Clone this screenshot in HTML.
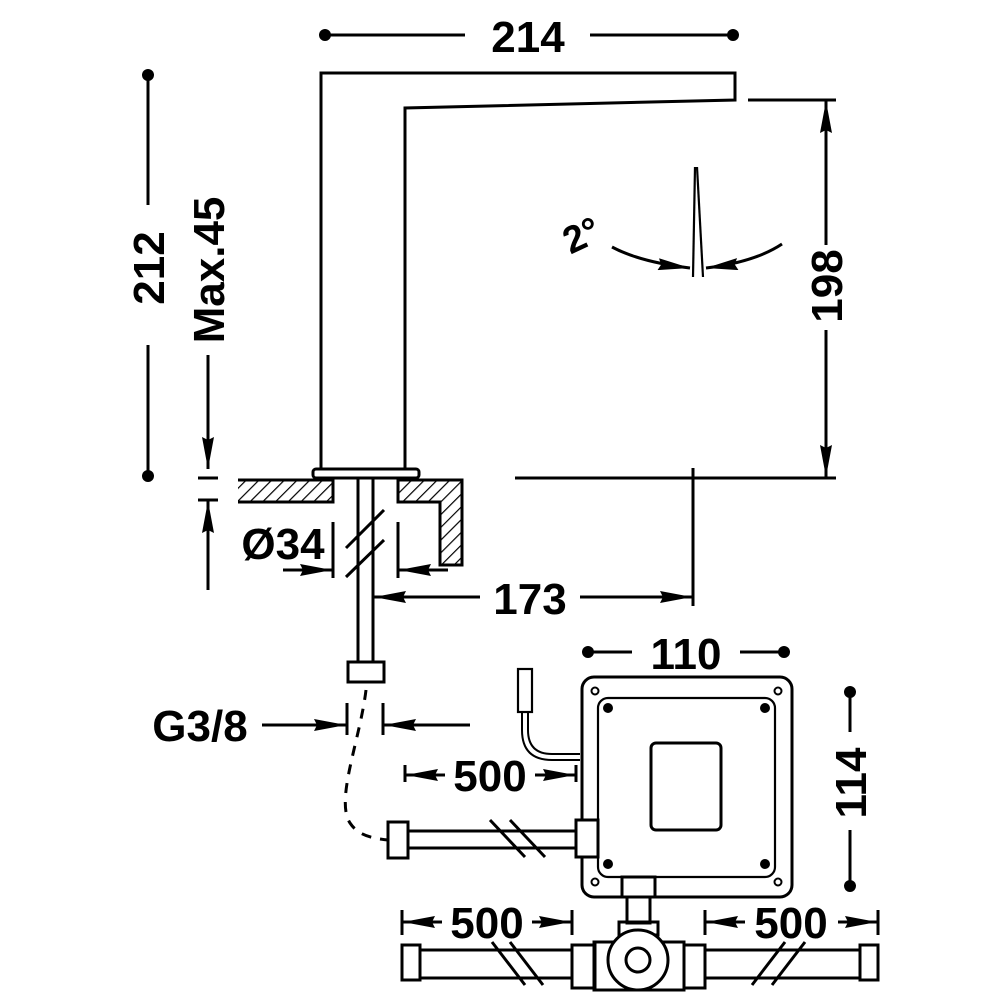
<!DOCTYPE html>
<html><head><meta charset="utf-8"><style>
html,body{margin:0;padding:0;background:#fff;}
svg{display:block;}
text{font-family:"Liberation Sans",Arial,sans-serif;font-weight:bold;fill:#000;}
</style></head><body>
<svg width="1000" height="1000" viewBox="0 0 1000 1000" xmlns="http://www.w3.org/2000/svg">
<defs>
<pattern id="h" patternUnits="userSpaceOnUse" width="9" height="9" patternTransform="rotate(45)">
<line x1="0" y1="0" x2="0" y2="9" stroke="#000" stroke-width="2.4"/>
</pattern>
<marker id="a" markerWidth="32" markerHeight="12" refX="32" refY="6" orient="auto" markerUnits="userSpaceOnUse" viewBox="0 0 32 12"><path d="M0,0 L32,6 L0,12 L3,6z" fill="#000"/></marker>
</defs>
<g fill="none" stroke="#000" stroke-width="3">
<path d="M321,470 V73 H735 V100 L405,108 V470"/>
<rect x="313" y="469" width="106" height="9" rx="3"/>
<rect x="238" y="480" width="95" height="22" fill="url(#h)" stroke="none"/>
<path d="M238,480 H333 V502 H238" />
<path d="M398,480 H462 V565 H440 V502 H398 Z" fill="url(#h)"/>
<line x1="358" y1="478" x2="358" y2="662"/>
<line x1="373" y1="478" x2="373" y2="662"/>
<line x1="346" y1="548" x2="384" y2="510"/>
<line x1="346" y1="577" x2="384" y2="540"/>
<rect x="348" y="662" width="36" height="20"/>
<line x1="325" y1="35" x2="465" y2="35"/>
<line x1="590" y1="35" x2="733" y2="35"/>
<line x1="148" y1="75" x2="148" y2="205"/>
<line x1="148" y1="345" x2="148" y2="476"/>
<line x1="208" y1="355" x2="208" y2="469" marker-end="url(#a)"/>
<line x1="198" y1="478" x2="218" y2="478"/>
<line x1="198" y1="500" x2="218" y2="500"/>
<line x1="208" y1="590" x2="208" y2="501" marker-end="url(#a)"/>
<line x1="748" y1="100" x2="836" y2="100"/>
<line x1="515" y1="478" x2="836" y2="478"/>
<line x1="826" y1="245" x2="826" y2="101" marker-end="url(#a)"/>
<line x1="826" y1="330" x2="826" y2="477" marker-end="url(#a)"/>
<line x1="695" y1="167" x2="693" y2="277" stroke-width="2.2"/>
<line x1="697" y1="167" x2="703" y2="277" stroke-width="2.2"/>
<path d="M612,247 Q640,262 690,268" marker-end="url(#a)"/>
<path d="M782,244 Q755,262 706,268" marker-end="url(#a)"/>
<line x1="333" y1="522" x2="333" y2="578"/>
<line x1="398" y1="522" x2="398" y2="578"/>
<line x1="283" y1="570" x2="332" y2="570" marker-end="url(#a)"/>
<line x1="448" y1="570" x2="399" y2="570" marker-end="url(#a)"/>
<line x1="693" y1="468" x2="693" y2="606"/>
<line x1="480" y1="597" x2="374" y2="597" marker-end="url(#a)"/>
<line x1="580" y1="597" x2="692" y2="597" marker-end="url(#a)"/>
<line x1="262" y1="725" x2="346" y2="725" marker-end="url(#a)"/>
<line x1="347" y1="703" x2="347" y2="735"/>
<line x1="383" y1="703" x2="383" y2="735"/>
<line x1="470" y1="725" x2="384" y2="725" marker-end="url(#a)"/>
<path d="M366,690 C360,740 335,800 350,823 C358,835 370,838 388,840" stroke-dasharray="10,9"/>
<rect x="388" y="822" width="20" height="36"/>
<line x1="408" y1="831" x2="576" y2="831"/>
<line x1="408" y1="848" x2="576" y2="848"/>
<line x1="490" y1="820" x2="525" y2="857"/>
<line x1="510" y1="820" x2="545" y2="857"/>
<line x1="405" y1="765" x2="405" y2="782"/>
<line x1="445" y1="775" x2="406" y2="775" marker-end="url(#a)"/>
<line x1="535" y1="775" x2="575" y2="775" marker-end="url(#a)"/>
<line x1="576" y1="765" x2="576" y2="782"/>
<rect x="582" y="677" width="210" height="220" rx="12"/>
<rect x="598" y="698" width="177" height="179" rx="10" stroke-width="2.2"/>
<rect x="651" y="743" width="70" height="87" rx="5"/>
<rect x="576" y="820" width="22" height="37" fill="#fff"/>
<circle cx="595" cy="691" r="3.5" stroke-width="2"/>
<circle cx="778" cy="691" r="3.5" stroke-width="2"/>
<circle cx="595" cy="882" r="3.5" stroke-width="2"/>
<circle cx="778" cy="882" r="3.5" stroke-width="2"/>
<rect x="518" y="669" width="14" height="43" stroke-width="2.2"/>
<path d="M522,712 V730 Q522,760 552,760 H580" stroke-width="2"/>
<path d="M528,712 V730 Q528,754 552,754 H580" stroke-width="2"/>
<rect x="622" y="877" width="33" height="20"/>
<rect x="627" y="897" width="23" height="26"/>
<rect x="619" y="922" width="39" height="13"/>
<rect x="572" y="945" width="23" height="43"/>
<rect x="594" y="942" width="90" height="48"/>
<rect x="684" y="945" width="21" height="43"/>
<circle cx="638" cy="960" r="30" fill="#fff"/>
<circle cx="638" cy="960" r="12"/>
<line x1="420" y1="950" x2="572" y2="950"/>
<line x1="420" y1="978" x2="572" y2="978"/>
<line x1="705" y1="950" x2="860" y2="950"/>
<line x1="705" y1="978" x2="860" y2="978"/>
<rect x="402" y="945" width="18" height="35"/>
<rect x="860" y="945" width="18" height="35"/>
<line x1="492" y1="942" x2="525" y2="985"/>
<line x1="510" y1="942" x2="543" y2="985"/>
<line x1="785" y1="942" x2="752" y2="985"/>
<line x1="805" y1="942" x2="772" y2="985"/>
<line x1="402" y1="910" x2="402" y2="935"/>
<line x1="442" y1="922" x2="403" y2="922" marker-end="url(#a)"/>
<line x1="532" y1="922" x2="571" y2="922" marker-end="url(#a)"/>
<line x1="572" y1="910" x2="572" y2="935"/>
<line x1="705" y1="910" x2="705" y2="935"/>
<line x1="745" y1="922" x2="706" y2="922" marker-end="url(#a)"/>
<line x1="838" y1="922" x2="877" y2="922" marker-end="url(#a)"/>
<line x1="878" y1="910" x2="878" y2="935"/>
<line x1="588" y1="652" x2="632" y2="652"/>
<line x1="740" y1="652" x2="784" y2="652"/>
<line x1="850" y1="692" x2="850" y2="732"/>
<line x1="850" y1="830" x2="850" y2="886"/>
</g>
<g fill="#000">
<circle cx="325" cy="35" r="6"/><circle cx="733" cy="35" r="6"/>
<circle cx="148" cy="75" r="6"/><circle cx="148" cy="476" r="6"/>
<circle cx="588" cy="652" r="6"/><circle cx="784" cy="652" r="6"/>
<circle cx="850" cy="692" r="6"/><circle cx="850" cy="886" r="6"/>
<circle cx="608" cy="708" r="5"/><circle cx="765" cy="708" r="5"/>
<circle cx="608" cy="864" r="5"/><circle cx="765" cy="864" r="5"/>
</g>
<g font-size="44">
<text x="528" y="52" text-anchor="middle">214</text>
<text x="686" y="669" text-anchor="middle">110</text>
<text x="490" y="791" text-anchor="middle">500</text>
<text x="487" y="938" text-anchor="middle">500</text>
<text x="791" y="938" text-anchor="middle">500</text>
<text x="530" y="614" text-anchor="middle">173</text>
<text x="200" y="741" text-anchor="middle">G3/8</text>
<text x="283" y="559" text-anchor="middle">Ø34</text>
<text transform="translate(164,268) rotate(-90)" text-anchor="middle">212</text>
<text transform="translate(224,270) rotate(-90)" text-anchor="middle">Max.45</text>
<text transform="translate(842,286) rotate(-90)" text-anchor="middle">198</text>
<text transform="translate(866,783) rotate(-90)" text-anchor="middle">114</text>
<text transform="translate(587,247) rotate(-25)" text-anchor="middle" font-size="38">2°</text>
</g>
</svg>
</body></html>
